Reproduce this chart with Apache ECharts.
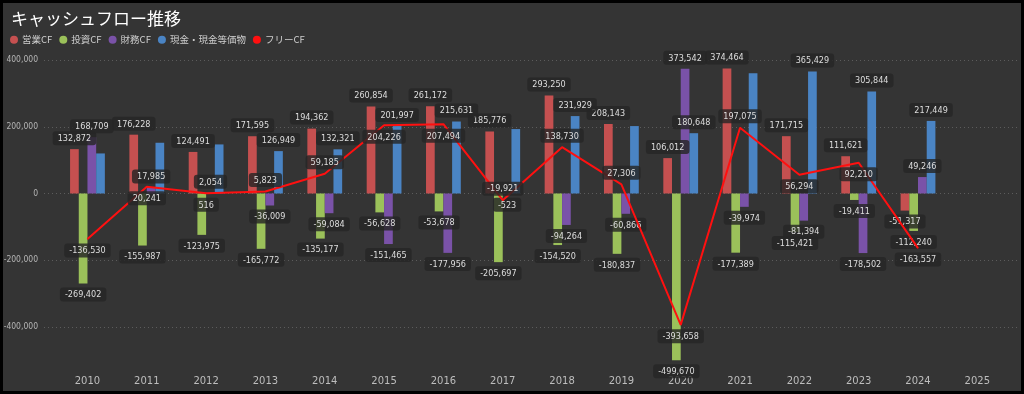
<!DOCTYPE html>
<html>
<head>
<meta charset="utf-8">
<script src="https://cdn.jsdelivr.net/npm/echarts@6/dist/echarts.min.js"></script>
<style>
html,body{margin:0;padding:0;background:#000;}
#c{position:absolute;left:3px;top:3px;width:1018px;height:388px;}
</style>
</head>
<body>
<div id="c"></div>
<script>
const years = ['2010','2011','2012','2013','2014','2015','2016','2017','2018','2019','2020','2021','2022','2023','2024','2025'];
const operatingCF = [132872,176228,124491,171595,194362,260854,261172,185776,293250,208143,106012,374464,171715,111621,-51317];
const investingCF = [-269402,-155987,-123975,-165772,-135177,-56628,-53678,-205697,-154520,-180837,-499670,-177389,-115421,-19411,-112240];
const financingCF = [168709,17985,2054,-36009,-59084,-151465,-177956,-523,-94264,-60866,373542,-39974,-81394,-178502,49246];
const cash = [120000,152000,147000,126949,132321,201997,215631,193000,231929,202000,180648,360000,365429,305844,217449];
const freeCF = [-136530,20241,516,5823,59185,204226,207494,-19921,138730,27306,-393658,197075,56294,92210,-163557];
const yTicks = [-400000,-200000,0,200000,400000];
const cashLabelHidden = ['2010','2011','2012','2017','2019','2021'];
const fcfLabelPos = ['bottom','bottom','bottom','top','top','bottom','bottom','top','top','top','bottom','top','bottom','bottom','bottom'];

const fmt = v => Number(v).toLocaleString('en-US');
const labelFont = "'Liberation Sans Narrow','DejaVu Sans Condensed','Roboto',sans-serif";
const baseLabel = {
  show: true, distance: 4, color: '#dedede', fontSize: 9, fontFamily: labelFont,
  backgroundColor: 'rgba(38,38,38,0.82)', borderRadius: 3, padding: [3, 5, 2, 5],
  formatter: p => fmt(p.value)
};
function barData(arr, hiddenYears) {
  return arr.map((v, i) => ({
    value: v,
    label: { position: v < 0 ? 'bottom' : 'top', show: !(hiddenYears && hiddenYears.includes(years[i])) }
  }));
}
const colors = ['#c55050', '#9bc15a', '#7a52a8', '#4a84c4', '#ff1010'];
const names = ['営業CF', '投資CF', '財務CF', '現金・現金等価物', 'フリーCF'];

const chart = echarts.init(document.getElementById('c'), null, { renderer: 'canvas' });
const barCommon = { type: 'bar', xAxisIndex: 0, yAxisIndex: 0, barWidth: 8.7, barGap: '0%', label: baseLabel, z: 3 };
chart.setOption({
  backgroundColor: '#343434',
  animation: false,
  title: {
    text: 'キャッシュフロー推移', left: 3, top: 2,
    textStyle: { color: '#ffffff', fontSize: 17, fontWeight: 'normal', fontFamily: "'Noto Sans CJK JP',sans-serif" }
  },
  legend: {
    left: 2, top: 27, itemWidth: 8, itemHeight: 8, itemGap: 7, icon: 'circle',
    data: names,
    textStyle: { color: '#cfcfcf', fontSize: 9.5, padding: [0, 0, 0, -1], fontFamily: "'Noto Sans CJK JP',sans-serif" }
  },
  grid: [
    { left: 54.8, right: 14, top: 40.3, bottom: 388 - 365.7, outerBoundsMode: 'none', containLabel: false },
    { left: 41, right: 3, top: 57, height: 267, outerBoundsMode: 'none', containLabel: false }
  ],
  xAxis: [
    {
      type: 'category', gridIndex: 0, data: years,
      axisLine: { show: false }, axisTick: { show: false },
      axisLabel: { color: '#bdbdbd', fontSize: 10, margin: 8, fontFamily: "'DejaVu Sans',sans-serif" },
      splitLine: { show: false }
    },
    { type: 'category', gridIndex: 1, data: [''], show: false }
  ],
  yAxis: [
    { type: 'value', gridIndex: 0, min: -525000, max: 450000, show: false, splitLine: { show: false } },
    {
      type: 'value', gridIndex: 1, min: yTicks[0], max: yTicks[yTicks.length - 1], interval: 200000,
      axisLine: { show: false }, axisTick: { show: false },
      axisLabel: { color: '#b5b5b5', fontSize: 8.5, margin: 6, formatter: v => fmt(v), fontFamily: labelFont },
      splitLine: { show: true, lineStyle: { color: '#5c5c5c', type: [1, 3], width: 1 } }
    }
  ],
  series: [
    Object.assign({}, barCommon, { name: names[0], data: barData(operatingCF), itemStyle: { color: colors[0] } }),
    Object.assign({}, barCommon, { name: names[1], data: barData(investingCF), itemStyle: { color: colors[1] } }),
    Object.assign({}, barCommon, { name: names[2], data: barData(financingCF), itemStyle: { color: colors[2] } }),
    Object.assign({}, barCommon, { name: names[3], data: barData(cash, cashLabelHidden), itemStyle: { color: colors[3] } }),
    {
      name: names[4], type: 'line', xAxisIndex: 0, yAxisIndex: 0, z: 5,
      data: freeCF.map((v, i) => ({ value: v, label: { position: fcfLabelPos[i] } })),
      symbol: 'circle', symbolSize: 1, showSymbol: true,
      lineStyle: { color: colors[4], width: 2 }, itemStyle: { color: colors[4] },
      label: Object.assign({}, baseLabel, { distance: 4 })
    }
  ]
});
</script>
</body>
</html>
